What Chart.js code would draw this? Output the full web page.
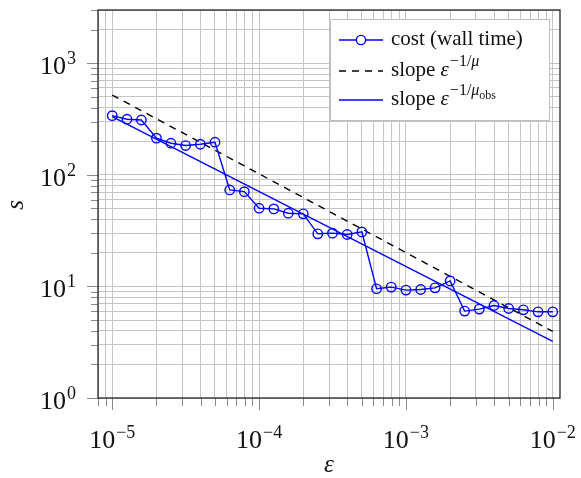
<!DOCTYPE html>
<html>
<head>
<meta charset="utf-8">
<script src="https://cdn.jsdelivr.net/npm/chart.js@4/dist/chart.umd.min.js"></script>
<style>
  body { margin: 0; background: #fff; }
  #wrap { width: 581px; height: 478px; }
</style>
</head>
<body>
<div id="wrap"><canvas id="costChart" width="581" height="478"></canvas></div>
<script>
// tolerance eps and measured wall-time cost s
const epsilon = [
  1.0e-5, 1.26e-5, 1.58e-5, 2.0e-5, 2.51e-5, 3.16e-5, 3.98e-5, 5.01e-5, 6.31e-5, 7.94e-5,
  1.0e-4, 1.26e-4, 1.58e-4, 2.0e-4, 2.51e-4, 3.16e-4, 3.98e-4, 5.01e-4, 6.31e-4, 7.94e-4,
  1.0e-3, 1.26e-3, 1.58e-3, 2.0e-3, 2.51e-3, 3.16e-3, 3.98e-3, 5.01e-3, 6.31e-3, 7.94e-3,
  1.0e-2
];
const cost = [
  339, 315, 310, 213, 192, 183, 188, 196, 73.2, 70.7,
  50.2, 49.5, 45.3, 44.7, 29.6, 30.0, 29.2, 30.8, 9.52, 9.86,
  9.27, 9.38, 9.71, 11.2, 6.01, 6.26, 6.75, 6.34, 6.17, 5.92,
  5.92
];

// reference slopes between the two end tolerances
const slopeEps = [1e-5, 1e-2];
const slopeMu = [519, 3.95];
const slopeMuObs = [332, 3.21];

// decade exponents that get a label
const xTickPowers = [-5, -4, -3, -2];
const yTickPowers = [0, 1, 2, 3];

const serif = "'Liberation Serif', 'Times New Roman', serif";
const blue = '#0000ff';

function pairs(xs, ys) {
  return xs.map((v, i) => ({ x: v, y: ys[i] }));
}

// every 1..9 x 10^k inside [min, max], used for the grid
function logTicks(min, max) {
  const out = [];
  for (let p = Math.floor(Math.log10(min)); p <= Math.ceil(Math.log10(max)); p++) {
    for (let m = 1; m < 10; m++) {
      const v = m * Math.pow(10, p);
      if (v >= min * 0.999 && v <= max * 1.001) out.push({ value: v });
    }
  }
  return out;
}

function isDecade(v) {
  const l = Math.log10(v);
  return Math.abs(l - Math.round(l)) < 1e-6;
}

// "10" with a raised exponent; align is 'center' or 'right'
function drawPower(ctx, exp, x, baseline, align) {
  const base = '10';
  const sup = exp < 0 ? '\u2212' + (-exp) : String(exp);
  ctx.font = '26px ' + serif;
  const wb = ctx.measureText(base).width;
  ctx.font = '18px ' + serif;
  const ws = ctx.measureText(sup).width;
  const total = wb + ws + 1;
  let x0 = align === 'right' ? x - total : x - total / 2;
  ctx.textAlign = 'left';
  ctx.textBaseline = 'alphabetic';
  ctx.font = '26px ' + serif;
  ctx.fillText(base, x0, baseline);
  ctx.font = '18px ' + serif;
  ctx.fillText(sup, x0 + wb + 1, baseline - 10);
}

const axisDecor = {
  id: 'axisDecor',
  afterDraw(chart) {
    const { ctx, chartArea: a, scales: { x, y } } = chart;
    ctx.save();

    // tick marks outside the frame
    ctx.strokeStyle = '#8a8a8a';
    ctx.lineWidth = 1;
    ctx.beginPath();
    x.ticks.forEach(t => {
      const px = Math.round(x.getPixelForValue(t.value)) + 0.5;
      const len = isDecade(t.value) ? 12 : 8;
      ctx.moveTo(px, a.bottom);
      ctx.lineTo(px, a.bottom + len);
    });
    y.ticks.forEach(t => {
      const py = Math.round(y.getPixelForValue(t.value)) + 0.5;
      const len = isDecade(t.value) ? 11 : 7;
      ctx.moveTo(a.left, py);
      ctx.lineTo(a.left - len, py);
    });
    ctx.stroke();

    // frame
    ctx.strokeStyle = '#262626';
    ctx.lineWidth = 1.3;
    ctx.strokeRect(a.left, a.top, a.right - a.left, a.bottom - a.top);

    // tick labels
    ctx.fillStyle = '#111';
    xTickPowers.forEach(p => {
      drawPower(ctx, p, x.getPixelForValue(Math.pow(10, p)), 448, 'center');
    });
    yTickPowers.forEach(p => {
      drawPower(ctx, p, 76, y.getPixelForValue(Math.pow(10, p)) + 11, 'right');
    });

    // axis titles
    ctx.font = 'italic 25px ' + serif;
    ctx.textAlign = 'center';
    ctx.textBaseline = 'alphabetic';
    ctx.fillText('\u03b5', 329, 472);
    ctx.save();
    ctx.translate(23, 205);
    ctx.rotate(-Math.PI / 2);
    ctx.fillText('s', 0, 0);
    ctx.restore();

    // legend
    const lx = 330.5, ly = 19.5, lw = 219, lh = 101;
    ctx.fillStyle = '#fff';
    ctx.fillRect(lx, ly, lw, lh);
    ctx.strokeStyle = '#bdbdbd';
    ctx.lineWidth = 1;
    ctx.strokeRect(lx, ly, lw, lh);

    const rows = [40, 71, 100];
    ctx.lineWidth = 1.4;

    ctx.strokeStyle = blue;
    ctx.beginPath();
    ctx.moveTo(339, rows[0]);
    ctx.lineTo(383, rows[0]);
    ctx.stroke();
    ctx.fillStyle = '#fff';
    ctx.beginPath();
    ctx.arc(361, rows[0], 4.6, 0, Math.PI * 2);
    ctx.fill();
    ctx.stroke();

    ctx.strokeStyle = '#000';
    ctx.setLineDash([7, 6]);
    ctx.beginPath();
    ctx.moveTo(339, rows[1]);
    ctx.lineTo(383, rows[1]);
    ctx.stroke();
    ctx.setLineDash([]);

    ctx.strokeStyle = blue;
    ctx.beginPath();
    ctx.moveTo(339, rows[2]);
    ctx.lineTo(383, rows[2]);
    ctx.stroke();

    ctx.fillStyle = '#111';
    ctx.textAlign = 'left';
    ctx.font = '21px ' + serif;
    ctx.fillText('cost (wall time)', 391, rows[0] + 5);

    [1, 2].forEach(r => {
      const base = rows[r] + 5;
      let cx = 391;
      ctx.font = '21px ' + serif;
      ctx.fillText('slope ', cx, base);
      cx += ctx.measureText('slope ').width;
      ctx.font = 'italic 21px ' + serif;
      ctx.fillText('\u03b5', cx, base);
      cx += ctx.measureText('\u03b5').width + 1;
      ctx.font = '16px ' + serif;
      ctx.fillText('\u22121/', cx, base - 10);
      cx += ctx.measureText('\u22121/').width;
      ctx.font = 'italic 16px ' + serif;
      ctx.fillText('\u03bc', cx, base - 10);
      cx += ctx.measureText('\u03bc').width;
      if (r === 2) {
        ctx.font = '12px ' + serif;
        ctx.fillText('obs', cx, base - 6);
      }
    });

    ctx.restore();
  }
};

const ctx1 = document.getElementById('costChart').getContext('2d');
const costChart = new Chart(ctx1, {
  type: 'scatter',
  data: {
    datasets: [{
      label: 'cost (wall time)',
      data: pairs(epsilon, cost),
      showLine: true,
      borderColor: blue,
      borderWidth: 1.4,
      pointRadius: 4.7,
      pointBorderWidth: 1.4,
      pointBorderColor: blue,
      pointBackgroundColor: 'rgba(0,0,0,0)'
    }, {
      label: 'slope mu',
      data: pairs(slopeEps, slopeMu),
      showLine: true,
      borderColor: '#000',
      borderWidth: 1.4,
      borderDash: [7, 6],
      pointRadius: 0
    }, {
      label: 'slope mu_obs',
      data: pairs(slopeEps, slopeMuObs),
      showLine: true,
      borderColor: blue,
      borderWidth: 1.4,
      pointRadius: 0
    }]
  },
  options: {
    responsive: false,
    animation: false,
    layout: { autoPadding: false, padding: { top: 10, right: 21, left: 0, bottom: 0 } },
    plugins: { legend: { display: false }, tooltip: { enabled: false } },
    scales: {
      x: {
        type: 'logarithmic',
        min: 8e-6,
        max: 1.12e-2,
        afterBuildTicks: s => { s.ticks = logTicks(s.min, s.max); },
        afterFit: s => { s.height = 80; },
        ticks: { display: false },
        grid: { color: '#c4c4c4', lineWidth: 1, drawTicks: false },
        border: { display: false }
      },
      y: {
        type: 'logarithmic',
        min: 1,
        max: 3000,
        afterBuildTicks: s => { s.ticks = logTicks(s.min, s.max); },
        afterFit: s => { s.width = 98; },
        ticks: { display: false },
        grid: { color: '#c4c4c4', lineWidth: 1, drawTicks: false },
        border: { display: false }
      }
    }
  },
  plugins: [axisDecor]
});
</script>
</body>
</html>
